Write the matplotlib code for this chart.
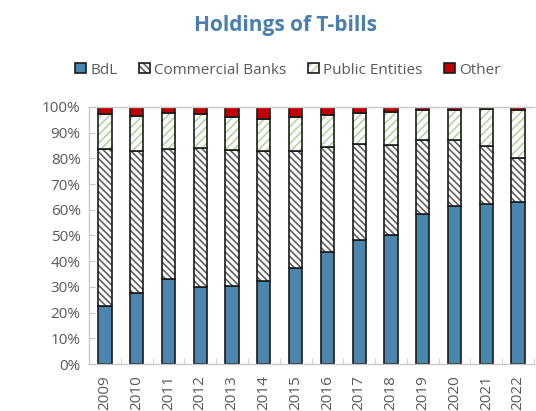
import matplotlib
matplotlib.use("Agg")
import matplotlib.pyplot as plt
import numpy as np

years = ["2009", "2010", "2011", "2012", "2013", "2014", "2015",
         "2016", "2017", "2018", "2019", "2020", "2021", "2022"]
bdl = [22.5, 27.7, 33.0, 29.8, 30.5, 32.3, 37.3, 43.6, 48.2, 50.2, 58.4, 61.6, 62.4, 63.2]
banks = [61.0, 55.3, 50.5, 54.1, 52.8, 50.5, 45.5, 40.7, 37.3, 35.0, 28.6, 25.6, 22.5, 16.8]
public = [13.8, 13.5, 14.0, 13.4, 12.8, 12.7, 13.2, 12.6, 12.0, 13.0, 11.7, 11.6, 14.2, 18.8]
other = [2.7, 3.5, 2.5, 2.7, 3.9, 4.5, 4.0, 3.1, 2.5, 1.8, 1.3, 1.2, 0.9, 1.2]
series_names = ["BdL", "Commercial Banks", "Public Entities", "Other"]

plt.rcParams['font.family'] = ['Open Sans', 'DejaVu Sans']
plt.rcParams['hatch.linewidth'] = 1.2

fig = plt.figure(figsize=(5.36, 4.11), dpi=100)
ax = fig.add_axes([89/536, 1 - 364/411, 445/536, 257/411])

x = np.arange(len(years))
w = 0.42
b0 = np.zeros(len(years))
bdl_a = np.array(bdl); banks_a = np.array(banks); pub_a = np.array(public); oth_a = np.array(other)

ax.bar(x, bdl_a, w, bottom=b0, color='#4a86ad', edgecolor='#1a1a1a', linewidth=1.2, label=series_names[0])
h2 = ax.bar(x, banks_a, w, bottom=bdl_a, color='white', edgecolor='#1a1a1a', linewidth=1.2,
            label=series_names[1])
for p in h2:
    p.set_hatch('\\' * 5)
    p._hatch_color = matplotlib.colors.to_rgba('#606060')
h3 = ax.bar(x, pub_a, w, bottom=bdl_a + banks_a, color='white', edgecolor='#1a1a1a', linewidth=1.2,
            label=series_names[2])
for p in h3:
    p.set_hatch('////')
    p._hatch_color = matplotlib.colors.to_rgba('#b5d3a0')
ax.bar(x, oth_a, w, bottom=bdl_a + banks_a + pub_a, color='#c00000', edgecolor='#1a1a1a',
       linewidth=1.2, label=series_names[3])

ax.set_xlim(-0.5, len(years) - 0.5)
ax.set_ylim(0, 100)
ax.set_yticks(np.arange(0, 101, 10))
ax.set_yticklabels([f"{v}%" for v in range(0, 101, 10)])
ax.set_xticks(x)
ax.set_xticklabels(years, rotation=90)
ax.set_xticks(np.arange(-0.5, len(years), 1), minor=True)

ax.spines['right'].set_visible(False)
for s in ['left', 'bottom', 'top']:
    ax.spines[s].set_color('#c8c8c8')
    ax.spines[s].set_linewidth(1.0)

ax.tick_params(axis='y', direction='in', length=4, color='#c8c8c8', labelsize=11,
               labelcolor='#595959', pad=6)
ax.tick_params(axis='x', which='major', length=0, labelsize=11, labelcolor='#595959', pad=8)
ax.tick_params(axis='x', which='minor', direction='in', length=4, color='#c8c8c8')

fig.text(286/536, 1 - 25/411, "Holdings of T-bills", ha='center', va='center',
         fontsize=15, fontweight='bold', color='#4a7fb0')

leg = fig.legend(loc='center', bbox_to_anchor=(288/536, 1 - 70/411), ncol=4, frameon=False,
                 fontsize=11, handlelength=0.7, handleheight=0.7, handletextpad=0.3,
                 columnspacing=1.4)
for t in leg.get_texts():
    t.set_color('#595959')

fig.savefig("out.png", dpi=100)
